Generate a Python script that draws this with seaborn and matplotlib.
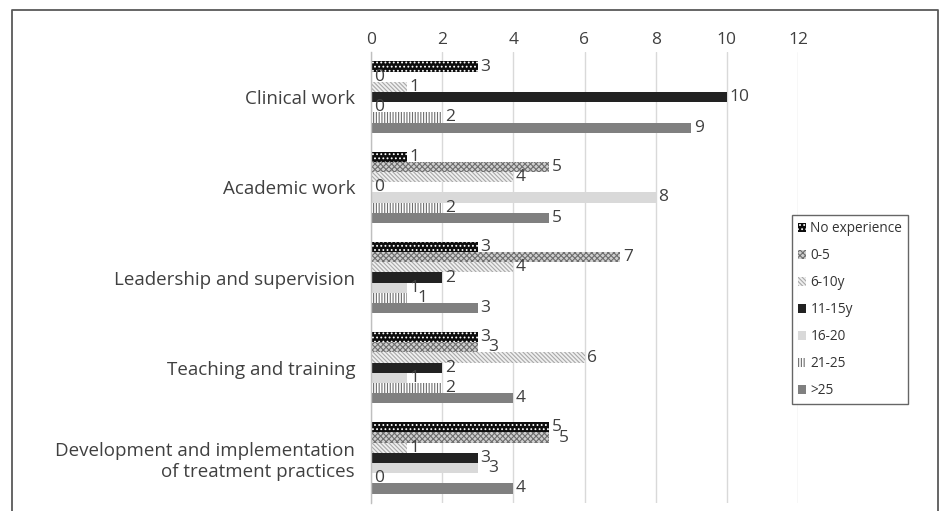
import numpy as np
import pandas as pd
import matplotlib
matplotlib.use("Agg")
import matplotlib.pyplot as plt
from matplotlib.patches import Patch
from matplotlib.lines import Line2D
import seaborn as sns

categories = ["Clinical work", "Academic work", "Leadership and supervision",
              "Teaching and training",
              "Development and implementation\nof treatment practices"]
groups = ["No experience", "0-5", "6-10y", "11-15y", "16-20", "21-25", ">25"]
no_experience = [3, 1, 3, 3, 5]
exp_0_5 = [0, 5, 7, 3, 5]
exp_6_10 = [1, 4, 4, 6, 1]
exp_11_15 = [10, 0, 2, 2, 3]
exp_16_20 = [0, 8, 1, 1, 3]
exp_21_25 = [2, 2, 1, 2, 0]
exp_over25 = [9, 5, 3, 4, 4]
x_ticks = [0, 2, 4, 6, 8, 10, 12]

series = [no_experience, exp_0_5, exp_6_10, exp_11_15, exp_16_20, exp_21_25, exp_over25]
rows = []
for g, vals in zip(groups, series):
    for c, v in zip(categories, vals):
        rows.append({"category": c, "group": g, "value": v})
df = pd.DataFrame(rows)

sns.set_theme(style="white")
plt.rcParams["font.family"] = ["Open Sans", "DejaVu Sans"]
plt.rcParams["hatch.linewidth"] = 0.8

# (facecolor, hatch, hatchcolor)
styles = [
    ("#0d0d0d", "....", "#ffffff"),
    ("#d0d0d0", "xxxxxx", "#6e6e6e"),
    ("#f0f0f0", "\\\\\\\\\\\\\\\\", "#a8a8a8"),
    ("#222222", None, "#222222"),
    ("#d9d9d9", None, "#d9d9d9"),
    ("#ffffff", "||||||", "#6e6e6e"),
    ("#808080", None, "#808080"),
]

fig = plt.figure(figsize=(9.39, 5.11), dpi=100)
ax = fig.add_axes([371 / 939, 1 - 503 / 511, 427 / 939, 451 / 511])

sns.barplot(data=df, y="category", x="value", hue="group", order=categories,
            hue_order=groups, orient="h", width=0.79, dodge=True, ax=ax,
            legend=False, errorbar=None, saturation=1)

all_labels = []
for cont, (fc, h, hc) in zip(ax.containers, styles):
    for p in cont:
        p.set_facecolor(fc)
        p.set_linewidth(0)
        if h:
            p.set_hatch(h)
            p.set_edgecolor(hc)
        else:
            p.set_edgecolor(fc)
    all_labels.append(ax.bar_label(cont, padding=2, fontsize=12.5, color="#404040"))

# nudge a label right when it equals the one just above it (avoid overlap)
for gi in range(1, len(series)):
    for ci in range(len(categories)):
        if series[gi][ci] == series[gi - 1][ci] and series[gi][ci] > 0:
            ann = all_labels[gi][ci]
            dx, dy = ann.xyann
            ann.xyann = (dx + 5.5, dy)

ax.set_xlim(0, 12)
ax.set_ylim(len(categories) - 0.5, -0.5)
ax.set_xticks(x_ticks)
ax.xaxis.tick_top()
ax.tick_params(axis="x", length=0, pad=3, labelsize=12.5, labelcolor="#404040")
ax.tick_params(axis="y", which="major", length=0, pad=11.5, labelsize=13.5,
               labelcolor="#404040")
ax.set_yticks(np.arange(-0.5, len(categories) + 0.5, 1), minor=True)
ax.tick_params(axis="y", which="minor", length=7, direction="inout",
               color="#bfbfbf", width=1)
ax.set_xlabel("")
ax.set_ylabel("")
ax.grid(axis="x", color="#d9d9d9", linewidth=1)
ax.set_axisbelow(True)
for s in ["top", "right", "bottom"]:
    ax.spines[s].set_visible(False)
ax.spines["left"].set_color("#bfbfbf")
ax.spines["left"].set_linewidth(1)

handles = []
for g, (fc, h, hc) in zip(groups, styles):
    handles.append(Patch(facecolor=fc, edgecolor=hc if h else fc,
                         hatch=h, linewidth=0, label=g))
leg = fig.legend(handles=handles, loc="upper left",
                 bbox_to_anchor=(792 / 939, 1 - 215 / 511),
                 fontsize=9.8, frameon=True, fancybox=False,
                 handlelength=0.6, handleheight=0.6, handletextpad=0.3,
                 labelspacing=0.88, borderpad=0.45, borderaxespad=0)
leg.get_frame().set_edgecolor("#404040")
leg.get_frame().set_linewidth(1)
for t in leg.get_texts():
    t.set_color("#333333")

# outer frame (left, top, right)
fx0, fx1, fy1 = 11.5 / 939, 937.5 / 939, 1 - 10.5 / 511
fig.add_artist(Line2D([fx0, fx0, fx1, fx1], [0, fy1, fy1, 0],
                      transform=fig.transFigure, color="#595959", linewidth=1.3))

fig.savefig("out.png", dpi=100)
